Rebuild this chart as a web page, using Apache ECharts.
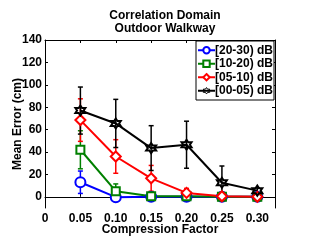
<!DOCTYPE html>
<html><head><meta charset="utf-8">
<script src="https://cdn.jsdelivr.net/npm/echarts@6/dist/echarts.min.js"></script>
<style>html,body{margin:0;padding:0;background:#fff}#c{width:312px;height:241px}</style>
</head><body><div id="c"></div>
<script>
const compression = [0.05, 0.10, 0.15, 0.20, 0.25, 0.30];
const seriesNames = ['[20-30) dB', '[10-20) dB', '[05-10) dB', '[00-05) dB'];
const mean2030 = [13, -0.3, 0, 0, 0, 0];
const err2030 = [10, 1.5, 1, 0.5, 0.5, 0.5];
const mean1020 = [42, 5, 0.5, 0.5, 0, 0];
const err1020 = [17, 6.5, 1, 0.5, 0.5, 0.5];
const mean0510 = [68.5, 36, 16.5, 3.5, 0.5, 0];
const err0510 = [19, 15, 11.5, 4, 3, 2];
const mean0005 = [77, 65.5, 43.5, 46.5, 12.5, 5.5];
const err0005 = [21, 21.5, 20, 21, 15, 2.5];
const yTicks = [0, 20, 40, 60, 80, 100, 120, 140];
const xTicks = [0, 0.05, 0.10, 0.15, 0.20, 0.25, 0.30];

const colors = ['#0000ff', '#008000', '#ff0000', '#000000'];
const means = [mean2030, mean1020, mean0510, mean0005];
const errs = [err2030, err1020, err0510, err0005];

function hexagram() {
  let pts = [];
  for (let i = 0; i < 12; i++) {
    const a = Math.PI / 2 + i * Math.PI / 6;
    const r = (i % 2 === 0) ? 1 : 0.577;
    pts.push([(Math.cos(a) * r).toFixed(3), (-Math.sin(a) * r).toFixed(3)]);
  }
  return 'path://M' + pts.map(p => p.join(' ')).join(' L') + ' Z';
}
const symbols = ['emptyCircle', 'emptyRect', 'emptyDiamond', hexagram()];
const symSizes = [10, 8, 10, 10];

const font = 'Liberation Sans, Arial, sans-serif';
const chart = echarts.init(document.getElementById('c'), null, {renderer: 'canvas'});

const series = [];
for (let k = 0; k < 4; k++) {
  const eb = compression.map((x, i) => [x, means[k][i], errs[k][i]]);
  series.push({
    type: 'custom', name: seriesNames[k] + '_err', silent: true, z: 2,
    data: eb,
    renderItem: (params, api) => {
      const x = api.value(0), m = api.value(1), e = api.value(2);
      const top = api.coord([x, m + e]);
      const bot = api.coord([x, m - e]);
      const cw = 2.5;
      const st = {stroke: colors[k], lineWidth: 1.5};
      return {type: 'group', children: [
        {type: 'line', shape: {x1: top[0], y1: top[1], x2: bot[0], y2: bot[1]}, style: st},
        {type: 'line', shape: {x1: top[0]-cw, y1: top[1], x2: top[0]+cw, y2: top[1]}, style: st},
        {type: 'line', shape: {x1: bot[0]-cw, y1: bot[1], x2: bot[0]+cw, y2: bot[1]}, style: st}
      ]};
    }
  });
}
for (let k = 0; k < 4; k++) {
  series.push({
    type: 'line', name: seriesNames[k], z: 3,
    data: compression.map((x, i) => [x, means[k][i]]),
    symbol: symbols[k], symbolSize: symSizes[k], showAllSymbol: true,
    lineStyle: {color: colors[k], width: 2},
    itemStyle: {color: k === 3 ? 'rgba(0,0,0,0)' : colors[k], borderColor: colors[k], borderWidth: 2},
    emphasis: {disabled: true}
  });
}

const xLabelFmt = v => Math.abs(v) < 1e-9 ? '0' : v.toFixed(2);

chart.setOption({
  animation: false,
  backgroundColor: '#fff',
  title: {
    text: 'Correlation Domain\nOutdoor Walkway', left: 160, top: 4, textAlign: 'center',
    textStyle: {fontFamily: font, fontSize: 12, fontWeight: 'bold', color: '#000', lineHeight: 13}
  },
  legend: {
    data: seriesNames.map(n => ({name: n, itemStyle: {borderWidth: 1}})),
    orient: 'vertical', left: 196, top: 41,
    itemWidth: 17, itemHeight: 8, itemGap: 1,
    padding: [3, 1, 3, 1],
    backgroundColor: '#fff', borderColor: '#000', borderWidth: 1,
    textStyle: {fontFamily: font, fontSize: 12, fontWeight: 'bold', color: '#000', padding: [0, 0, 0, -5], lineHeight: 12.5}
  },
  grid: {left: 45, right: 37, top: 40, bottom: 33, containLabel: false, outerBoundsMode: 'none'},
  xAxis: [{
    type: 'value', min: 0, max: 0.325, position: 'bottom',
    name: 'Compression Factor', nameLocation: 'middle', nameGap: 16, nameMoveOverlap: false,
    nameTextStyle: {fontFamily: font, fontSize: 12, fontWeight: 'bold', color: '#000', verticalAlign: 'top'},
    axisLine: {lineStyle: {color: '#000', width: 1}},
    axisTick: {inside: true, length: 3, lineStyle: {color: '#000'}, customValues: xTicks},
    axisLabel: {customValues: xTicks, formatter: xLabelFmt, fontFamily: font, fontSize: 12, fontWeight: 'bold', color: '#000', margin: 5},
    splitLine: {show: false}
  }, {
    type: 'value', min: 0, max: 0.325, position: 'top',
    axisLine: {onZero: false, lineStyle: {color: '#000', width: 1}},
    axisTick: {inside: true, length: 3, lineStyle: {color: '#000'}, customValues: xTicks},
    axisLabel: {show: false}, splitLine: {show: false}
  }],
  yAxis: [{
    type: 'value', min: -10, max: 140, position: 'left',
    name: 'Mean Error (cm)', nameLocation: 'middle', nameGap: 21, nameMoveOverlap: false,
    nameTextStyle: {fontFamily: font, fontSize: 12, fontWeight: 'bold', color: '#000'},
    axisLine: {show: true, onZero: false, lineStyle: {color: '#000', width: 1}},
    axisTick: {show: true, inside: true, length: 3, lineStyle: {color: '#000'}, customValues: yTicks},
    axisLabel: {customValues: yTicks, fontFamily: font, fontSize: 12, fontWeight: 'bold', color: '#000', margin: 3},
    splitLine: {show: false}
  }, {
    type: 'value', min: -10, max: 140, position: 'right',
    axisLine: {show: true, onZero: false, lineStyle: {color: '#000', width: 1}},
    axisTick: {show: true, inside: true, length: 3, lineStyle: {color: '#000'}, customValues: yTicks},
    axisLabel: {show: false}, splitLine: {show: false}
  }],
  series: series
});
</script></body></html>
